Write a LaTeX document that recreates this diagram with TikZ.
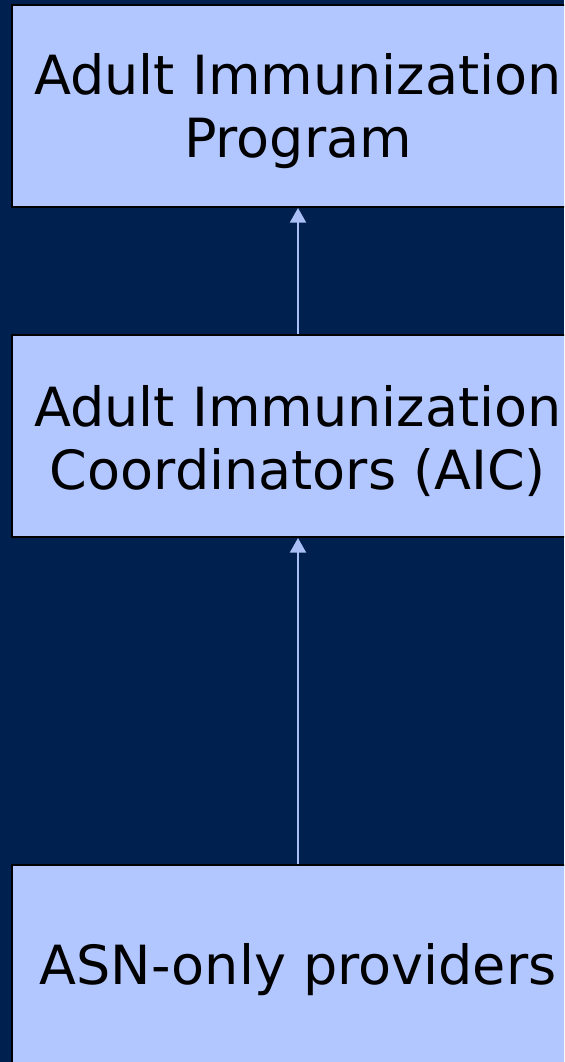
\documentclass[tikz,border=0pt]{standalone}
\usepackage{fontspec}
\setmainfont{DejaVu Sans}
\usetikzlibrary{arrows.meta}
\definecolor{navybg}{HTML}{00214F}
\definecolor{boxfill}{HTML}{B2C6FF}
\definecolor{arrowblue}{HTML}{A9BFF5}

\begin{document}
\begin{tikzpicture}[x=0.75pt,y=-0.75pt,
  level/.style={draw=black, line width=1.5pt, fill=boxfill,
    minimum width=429pt, minimum height=151.5pt, inner sep=0pt},
  caption/.style={align=center, inner sep=0pt, font=\fontsize{40.5}{47.5}\selectfont},
  link/.style={draw=arrowblue, line width=1.6pt, -{Triangle[length=11pt,width=12pt]}}]
\useasboundingbox (0,0) rectangle (564,1062);
\fill[navybg] (0,0) rectangle (564,1062);
\clip (0,0) rectangle (564,1062);
% boxes
\node[level] at (298,106) (aip) {};
\node[level] at (298,436) (aic) {};
\node[level] at (298,966) (asn) {};
% texts
\node[caption] at (298,111) (aiptext) {Adult Immunization\\Program};
\node[caption] at (298,441) (aictext) {Adult Immunization\\Coordinators (AIC)};
\node[caption] at (298,970) (asntext) {ASN-only providers};
\path[link] (aic) -- (aip);
\path[link] (asn) -- (aic);
\end{tikzpicture}
\end{document}
